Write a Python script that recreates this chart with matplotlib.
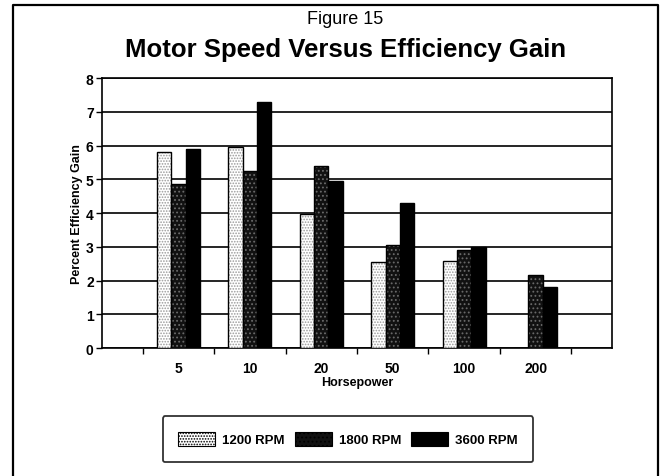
import numpy as np
import matplotlib
matplotlib.use("Agg")
import matplotlib.pyplot as plt
from matplotlib.patches import Patch

plt.rcParams['font.family'] = ['Liberation Sans', 'DejaVu Sans']

# Daten
horsepower = ["5", "10", "20", "50", "100", "200"]
rpm_1200 = [5.8, 5.95, 3.98, 2.55, 2.57, 0.0]
rpm_1800 = [4.85, 5.25, 5.4, 3.05, 2.9, 2.17]
rpm_3600 = [5.9, 7.3, 4.95, 4.3, 3.0, 1.8]
series_names = ["1200 RPM", "1800 RPM", "3600 RPM"]
y_ticks = [0, 1, 2, 3, 4, 5, 6, 7, 8]

fig = plt.figure(figsize=(6.68, 4.77), dpi=100)
ax = fig.add_axes([0.1527, 0.2683, 0.7635, 0.566])

x = np.arange(len(horsepower))
w = 0.2
styles = [
    dict(face="white", hatch="......", hc="#9a9a9a"),
    dict(face="#111111", hatch="....", hc="#6a6a6a"),
    dict(face="black", hatch=None, hc="black"),
]
series = [rpm_1200, rpm_1800, rpm_3600]

plt.rcParams['hatch.linewidth'] = 0.8
handles = []
for i, (vals, st) in enumerate(zip(series, styles)):
    pos = x + (i - 1) * w
    ax.bar(pos, vals, w, color=st["face"], hatch=st["hatch"],
           edgecolor=st["hc"], linewidth=0, zorder=3)
    ax.bar(pos, vals, w, fill=False, edgecolor="black", linewidth=1.0, zorder=4)
    handles.append(Patch(facecolor=st["face"], hatch=st["hatch"],
                         edgecolor=st["hc"], linewidth=0))

ax.set_ylim(0, 8)
ax.set_xlim(-1.07, 6.07)
ax.set_yticks(y_ticks)
ax.set_yticklabels([str(t) for t in y_ticks], fontsize=10, fontweight="bold")
ax.set_xticks(x)
ax.set_xticklabels(horsepower, fontsize=10, fontweight="bold")
ax.tick_params(axis="x", length=0, pad=9)
ax.set_xticks(np.arange(-0.5, len(horsepower) + 0.5, 1), minor=True)
ax.tick_params(axis="x", which="minor", length=4, width=1.0, direction="out")
ax.tick_params(axis="y", length=4, width=1.0, direction="out", pad=2)
ax.yaxis.grid(True, color="black", linewidth=1.2, zorder=0)
ax.set_axisbelow(True)
for s in ax.spines.values():
    s.set_linewidth(1.2)

ax.set_xlabel("Horsepower", fontsize=9, fontweight="bold", labelpad=1)
ax.set_ylabel("Percent Efficiency Gain", fontsize=9, fontweight="bold", labelpad=2)

fig.text(0.517, 0.96, "Figure 15", ha="center", va="center", fontsize=13)
fig.text(0.517, 0.895, "Motor Speed Versus Efficiency Gain", ha="center",
         va="center", fontsize=18.5, fontweight="bold")

leg = fig.legend(handles, series_names, loc="center", ncol=3,
                 bbox_to_anchor=(0.521, 0.077), frameon=True, fancybox=True,
                 edgecolor="black", handlelength=2.8, handleheight=1.2,
                 columnspacing=0.8, handletextpad=0.5, borderpad=1.2,
                 prop={"weight": "bold", "size": 9.5})
leg.get_frame().set_linewidth(1.3)
for h in leg.legend_handles:
    h.set_edgecolor("black")
    h.set_linewidth(0.8)

# Rahmen um die Abbildung
bx0, bx1, by1 = 13 / 668, 658 / 668, 1 - 6 / 477
fig.add_artist(plt.Line2D([bx0, bx0, bx1, bx1], [0, by1, by1, 0],
                          transform=fig.transFigure, color="black", linewidth=1.6))

fig.savefig("out.png", dpi=100)
